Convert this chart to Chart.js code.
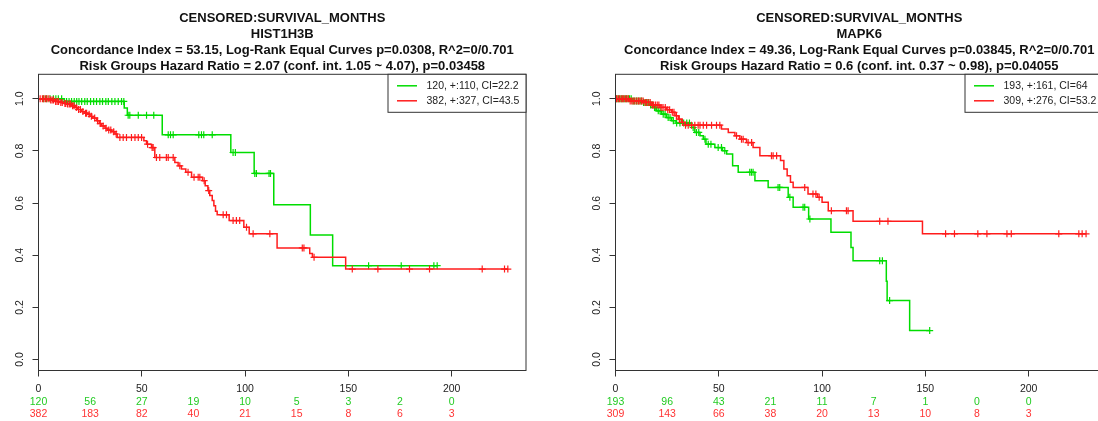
<!DOCTYPE html>
<html>
<head>
<meta charset="utf-8">
<script src="https://cdn.jsdelivr.net/npm/chart.js@4/dist/chart.umd.min.js"></script>
<style>
  html, body { margin: 0; padding: 0; background: #fff; overflow: hidden; }
  #wrap { width: 1098px; height: 421px; overflow: hidden; }
  #row { display: flex; width: 1154px; }
  canvas { display: block; }
</style>
</head>
<body>
<div id="wrap"><div id="row">
  <canvas id="kmLeft" width="577" height="421"></canvas>
  <canvas id="kmRight" width="577" height="421"></canvas>
</div></div>
<script>
// ---- shared axes ----
const timeTicks = [0, 50, 100, 150, 200];
const survTicks = [0, 0.2, 0.4, 0.6, 0.8, 1.0];
const riskTimes = [0, 25, 50, 75, 100, 125, 150, 175, 200];

// ---- HIST1H3B ----
const h3bTitle = [
  'CENSORED:SURVIVAL_MONTHS',
  'HIST1H3B',
  'Concordance Index = 53.15, Log-Rank Equal Curves p=0.0308, R^2=0/0.701',
  'Risk Groups Hazard Ratio = 2.07 (conf. int. 1.05 ~ 4.07), p=0.03458'
];
const h3bLegend = ['120, +:110, CI=22.2', '382, +:327, CI=43.5'];
const h3bGreenT = [0, 12.5, 41.5, 43.0, 59.9, 93.1, 104.4, 113.9, 131.6, 142.4];
const h3bGreenS = [1, 0.990, 0.965, 0.937, 0.862, 0.794, 0.714, 0.594, 0.478, 0.360];
const h3bGreenCens = [2.5, 3.9, 5.6, 7.2, 8.4, 9.6, 11.2, 13.6, 14.8, 16.0, 17.3, 18.5, 19.6, 20.9,
  22.4, 23.6, 25.2, 26.7, 28.1, 29.7, 31.0, 32.6, 33.8, 35.5, 37.0, 38.6, 40.2, 41.3, 43.4, 44.2,
  48.3, 52.3, 55.8, 62.8, 63.9, 65.2, 77.6, 78.9, 80.0, 84.1, 94.2, 95.3, 104.7, 105.5, 111.6,
  112.3, 159.8, 175.6, 191.4, 193.0];
const h3bRedT = [0, 5.6, 8.0, 10.4, 12.3, 13.6, 16.0, 17.6, 18.8, 20.9, 22.5, 23.6, 24.9, 26.2,
  28.1, 29.4, 30.5, 32.2, 33.3, 35.4, 37.0, 38.1, 51.0, 52.3, 54.7, 56.3, 66.0, 67.6, 69.2, 71.3,
  74.1, 79.4, 80.7, 82.0, 82.9, 84.1, 84.9, 85.7, 86.5, 92.3, 99.4, 102.0, 115.5, 131.3, 132.6, 148.7];
const h3bRedS = [1, 0.995, 0.990, 0.986, 0.982, 0.980, 0.973, 0.967, 0.959, 0.951, 0.945, 0.941,
  0.933, 0.926, 0.916, 0.905, 0.896, 0.887, 0.880, 0.874, 0.865, 0.852, 0.839, 0.826, 0.813, 0.775,
  0.756, 0.743, 0.731, 0.718, 0.699, 0.686, 0.667, 0.648, 0.629, 0.610, 0.590, 0.569, 0.555, 0.533,
  0.507, 0.482, 0.428, 0.407, 0.392, 0.347];
const h3bRedCens = [0.8, 1.9, 2.6, 3.4, 4.1, 5.0, 5.9, 6.6, 7.3, 8.3, 9.0, 9.7, 10.8, 11.5, 12.8,
  13.2, 14.1, 14.9, 15.6, 16.5, 17.2, 18.3, 19.4, 20.3, 21.5, 22.8, 23.3, 24.5, 25.6, 27.2, 28.6,
  29.9, 31.3, 32.7, 34.0, 35.0, 36.4, 37.6, 39.4, 41.0, 42.6, 45.0, 46.7, 48.3, 49.9, 52.8, 55.0,
  55.5, 57.1, 58.7, 61.9, 62.8, 65.2, 68.4, 72.4, 75.3, 77.3, 78.1, 80.2, 82.4, 89.4, 91.0, 94.2,
  95.8, 97.4, 100.7, 103.9, 112.0, 127.7, 128.5, 133.4, 151.9, 164.3, 179.6, 189.3, 214.8, 225.6, 227.2];
const h3bRiskGreen = [120, 56, 27, 19, 10, 5, 3, 2, 0];
const h3bRiskRed = [382, 183, 82, 40, 21, 15, 8, 6, 3];

// ---- MAPK6 ----
const mapTitle = [
  'CENSORED:SURVIVAL_MONTHS',
  'MAPK6',
  'Concordance Index = 49.36, Log-Rank Equal Curves p=0.03845, R^2=0/0.701',
  'Risk Groups Hazard Ratio = 0.6 (conf. int. 0.37 ~ 0.98), p=0.04055'
];
const mapLegend = ['193, +:161, CI=64', '309, +:276, CI=53.2'];
const mapGreenT = [0, 7.8, 13.5, 16.7, 18.6, 19.9, 22.3, 24.7, 27.2, 29.3, 36.8, 38.4, 40.9, 42.5,
  43.8, 48.1, 51.8, 53.8, 56.7, 59.4, 67.5, 73.9, 83.6, 86.0, 93.5, 104.3, 114.0, 115.0, 131.1, 131.5, 142.4];
const mapGreenS = [1, 0.992, 0.986, 0.976, 0.967, 0.954, 0.941, 0.928, 0.916, 0.907, 0.890, 0.871,
  0.858, 0.845, 0.826, 0.813, 0.801, 0.788, 0.743, 0.718, 0.686, 0.660, 0.622, 0.584, 0.539, 0.488,
  0.430, 0.379, 0.300, 0.226, 0.111];
const mapGreenCens = [0.6, 1.4, 2.2, 3.0, 3.7, 4.5, 5.3, 6.1, 6.8, 7.6, 8.5, 9.3, 10.2, 11.0, 11.9,
  12.7, 13.6, 14.4, 15.3, 16.1, 17.0, 17.9, 18.9, 19.5, 20.7, 21.6, 23.1, 24.0, 25.5, 26.4, 28.0,
  29.6, 31.2, 33.0, 34.5, 35.8, 37.6, 39.2, 40.3, 43.3, 44.9, 46.2, 49.7, 51.3, 52.9, 65.0, 65.8,
  66.6, 78.7, 79.5, 84.4, 90.8, 91.6, 94.1, 127.9, 129.2, 132.7, 152.1];
const mapRedT = [0, 7.0, 13.5, 17.5, 21.5, 24.7, 27.2, 28.8, 30.4, 32.0, 33.6, 51.3, 54.6, 57.8,
  60.2, 63.4, 66.6, 69.9, 79.9, 81.5, 83.1, 84.7, 86.0, 93.2, 97.8, 100.0, 103.0, 115.0, 148.6];
const mapRedS = [1, 0.992, 0.986, 0.976, 0.967, 0.958, 0.948, 0.935, 0.922, 0.910, 0.899, 0.884,
  0.871, 0.858, 0.845, 0.832, 0.813, 0.782, 0.763, 0.731, 0.705, 0.680, 0.660, 0.635, 0.622, 0.603,
  0.571, 0.530, 0.482];
const mapRedCens = [0.5, 1.2, 1.9, 2.7, 3.3, 4.0, 4.8, 5.5, 6.2, 7.1, 7.9, 8.6, 9.4, 10.3, 11.1,
  11.8, 12.6, 13.4, 14.3, 15.0, 15.9, 16.8, 17.7, 18.4, 19.3, 20.2, 21.0, 22.1, 23.0, 24.1, 25.3,
  26.2, 27.5, 28.3, 29.5, 30.9, 32.4, 33.9, 35.2, 36.8, 38.4, 40.0, 40.9, 42.5, 44.1, 46.5, 48.9,
  50.5, 58.6, 61.0, 61.8, 64.2, 65.9, 75.5, 76.3, 78.0, 91.6, 95.6, 97.0, 98.6, 104.5, 111.8, 112.6,
  127.9, 131.9, 159.8, 164.1, 175.4, 179.8, 189.5, 191.6, 214.6, 224.3, 225.9, 227.8];
const mapRiskGreen = [193, 96, 43, 21, 11, 7, 1, 0, 0];
const mapRiskRed = [309, 143, 66, 38, 20, 13, 10, 8, 3];

// ---- styling ----
const GREEN = '#00dd00';
const RED = '#ff1c1c';
const GREEN_TXT = '#22cc22';
const RED_TXT = '#ff3333';
const INK = '#333333';
const FONT = '"Liberation Sans", Arial, Helvetica, sans-serif';

// survival level of a step curve at time t
function levelAt(times, surv, t) {
  let s = surv[0];
  for (let i = 0; i < times.length; i++) { if (times[i] <= t) s = surv[i]; }
  return s;
}

function stepPoints(times, surv, cens) {
  const pts = times.map((t, i) => ({ x: t, y: surv[i] }));
  const last = Math.max(...cens);
  if (last > times[times.length - 1]) pts.push({ x: last, y: surv[surv.length - 1] });
  return pts;
}

function censorPoints(times, surv, cens) {
  return cens.map(t => ({ x: t, y: levelAt(times, surv, t) }));
}

// frame, tick labels, risk table, titles and legend
const kmDecor = {
  id: 'kmDecor',
  afterDraw(chart, args, o) {
    const { ctx, chartArea: a } = chart;
    const xs = chart.scales.x, ys = chart.scales.y;
    ctx.save();

    ctx.strokeStyle = INK;
    ctx.lineWidth = 1;
    ctx.strokeRect(a.left, a.top, a.right - a.left, a.bottom - a.top);

    ctx.fillStyle = '#222';
    ctx.font = '10.5px ' + FONT;
    ctx.textAlign = 'center';
    ctx.textBaseline = 'middle';
    survTicks.forEach(v => {
      ctx.save();
      ctx.translate(a.left - 18.5, ys.getPixelForValue(v));
      ctx.rotate(-Math.PI / 2);
      ctx.fillText(v.toFixed(1), 0, 0);
      ctx.restore();
    });
    timeTicks.forEach(v => ctx.fillText(String(v), xs.getPixelForValue(v), a.bottom + 19));

    riskTimes.forEach((t, i) => {
      const px = xs.getPixelForValue(t);
      ctx.fillStyle = GREEN_TXT;
      ctx.fillText(String(o.riskGreen[i]), px, a.bottom + 32);
      ctx.fillStyle = RED_TXT;
      ctx.fillText(String(o.riskRed[i]), px, a.bottom + 44);
    });

    ctx.fillStyle = '#111';
    ctx.font = 'bold 13px ' + FONT;
    const cx = (a.left + a.right) / 2;
    [18, 34, 50, 66].forEach((py, i) => ctx.fillText(o.title[i], cx, py));

    const lw = 138, lh = 38;
    const lx = a.right - lw, ly = a.top;
    ctx.fillStyle = '#fff';
    ctx.fillRect(lx, ly, lw, lh);
    ctx.strokeStyle = INK;
    ctx.strokeRect(lx, ly, lw, lh);
    ctx.font = '10.5px ' + FONT;
    ctx.textAlign = 'left';
    [[GREEN, o.legend[0], 11.5], [RED, o.legend[1], 26.5]].forEach(([c, txt, dy]) => {
      ctx.strokeStyle = c;
      ctx.lineWidth = 1.5;
      ctx.beginPath();
      ctx.moveTo(lx + 9, ly + dy);
      ctx.lineTo(lx + 29, ly + dy);
      ctx.stroke();
      ctx.fillStyle = '#222';
      ctx.fillText(txt, lx + 38.5, ly + dy);
    });
    ctx.restore();
  }
};

function makePanel(id, p) {
  const lineDs = (label, pts, color) => ({
    label, data: pts, borderColor: color, borderWidth: 1.5, stepped: 'before',
    pointRadius: 0, fill: false, tension: 0
  });
  const markDs = (label, pts, color) => ({
    label, data: pts, showLine: false, pointStyle: 'cross', pointRadius: 3.5,
    pointBorderColor: color, pointBorderWidth: 1.2, borderColor: color
  });
  new Chart(document.getElementById(id), {
    type: 'line',
    data: {
      datasets: [
        lineDs('red', stepPoints(p.redT, p.redS, p.redCens), RED),
        markDs('red censored', censorPoints(p.redT, p.redS, p.redCens), RED),
        lineDs('green', stepPoints(p.greenT, p.greenS, p.greenCens), GREEN),
        markDs('green censored', censorPoints(p.greenT, p.greenS, p.greenCens), GREEN)
      ]
    },
    options: {
      responsive: false,
      animation: false,
      devicePixelRatio: 1,
      events: [],
      layout: { padding: { top: 74.3, right: 51, left: 0, bottom: 0 } },
      scales: {
        x: {
          type: 'linear', min: 0, max: 236, display: true,
          ticks: { display: false },
          border: { display: false },
          grid: { drawOnChartArea: false, drawTicks: true, tickLength: 6, color: INK, lineWidth: 1 },
          afterBuildTicks: s => { s.ticks = timeTicks.map(v => ({ value: v })); },
          afterFit: s => { s.height = 50.5; }
        },
        y: {
          type: 'linear', min: -0.042, max: 1.094, display: true,
          ticks: { display: false },
          border: { display: false },
          grid: { drawOnChartArea: false, drawTicks: true, tickLength: 6, color: INK, lineWidth: 1 },
          afterBuildTicks: s => { s.ticks = survTicks.map(v => ({ value: v })); },
          afterFit: s => { s.width = 38.5; }
        }
      },
      plugins: {
        legend: { display: false },
        tooltip: { enabled: false },
        kmDecor: {
          title: p.title, legend: p.legend, riskGreen: p.riskGreen, riskRed: p.riskRed
        }
      }
    },
    plugins: [kmDecor]
  });
}

makePanel('kmLeft', {
  title: h3bTitle, legend: h3bLegend,
  greenT: h3bGreenT, greenS: h3bGreenS, greenCens: h3bGreenCens,
  redT: h3bRedT, redS: h3bRedS, redCens: h3bRedCens,
  riskGreen: h3bRiskGreen, riskRed: h3bRiskRed
});
makePanel('kmRight', {
  title: mapTitle, legend: mapLegend,
  greenT: mapGreenT, greenS: mapGreenS, greenCens: mapGreenCens,
  redT: mapRedT, redS: mapRedS, redCens: mapRedCens,
  riskGreen: mapRiskGreen, riskRed: mapRiskRed
});
</script>
</body>
</html>
